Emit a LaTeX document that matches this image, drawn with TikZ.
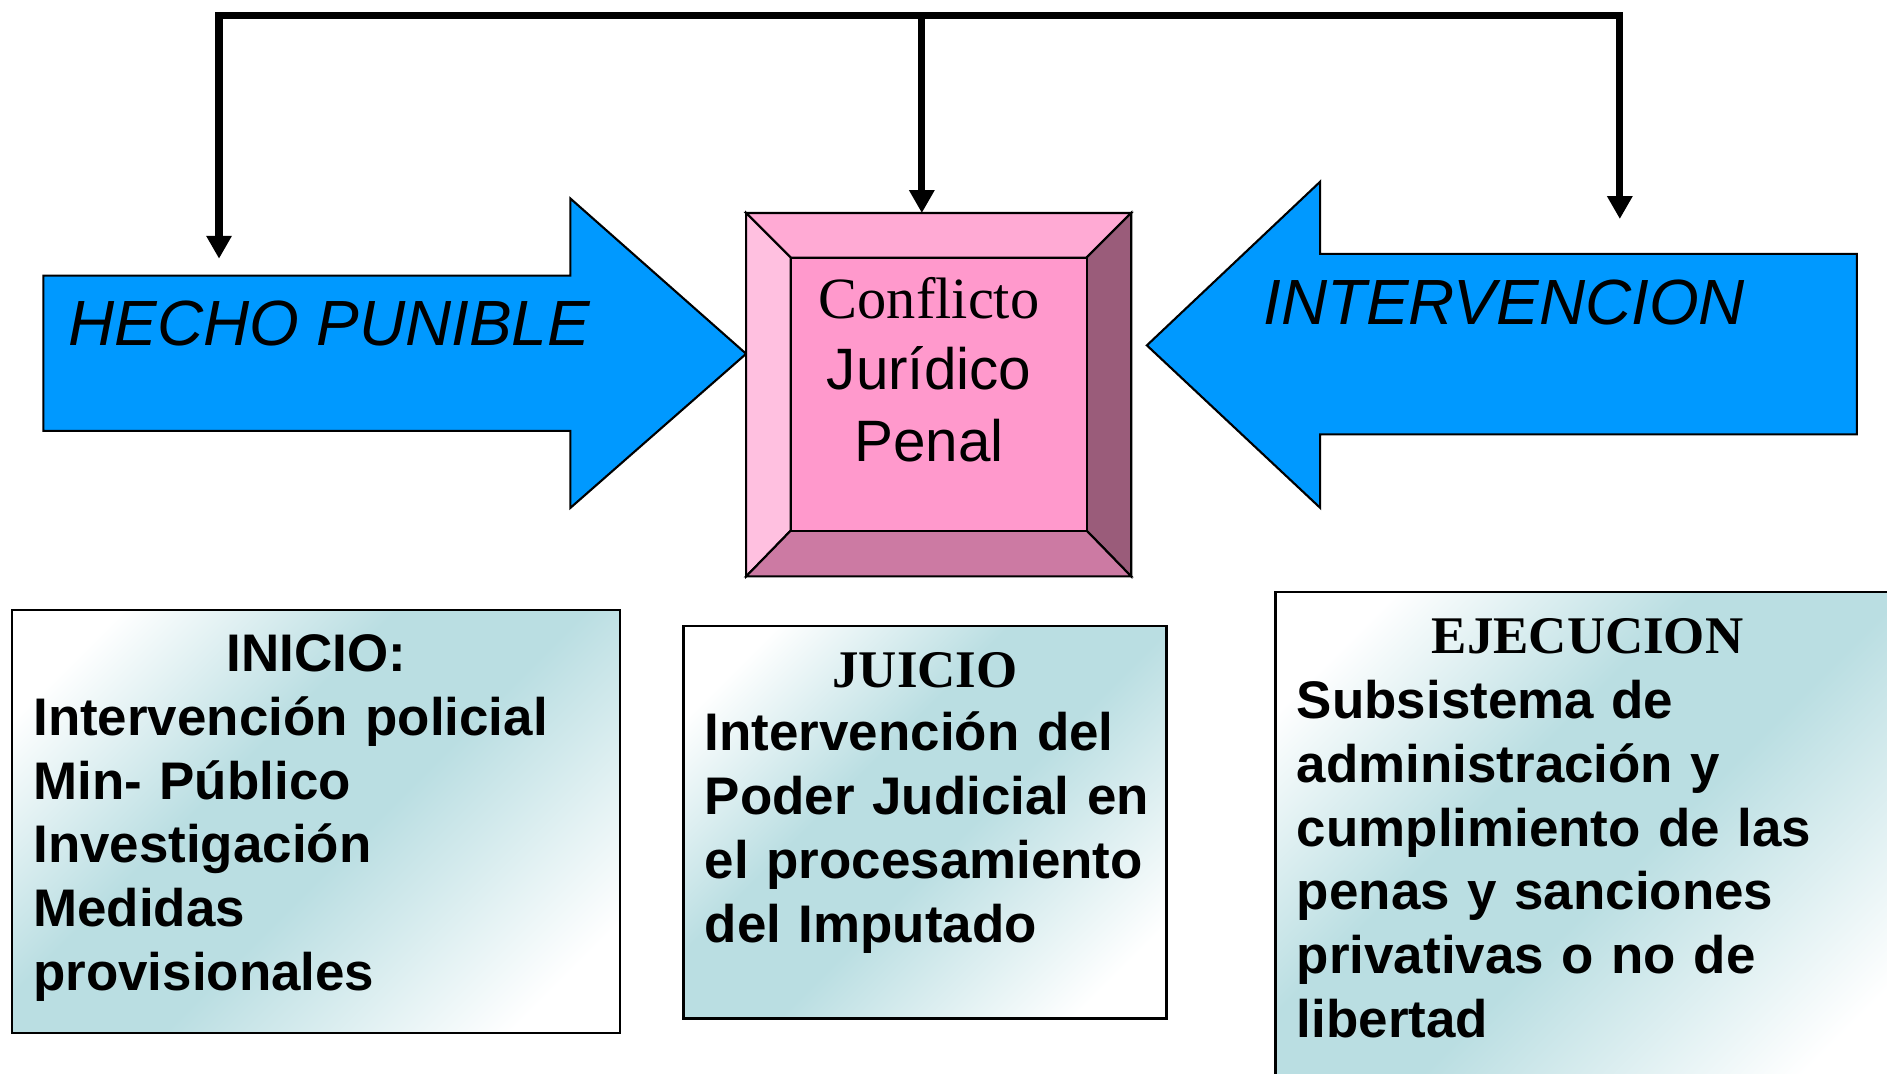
\documentclass[tikz,border=0pt]{standalone}
\usepackage{fontspec}
\setmainfont{Liberation Serif}
\setsansfont{Liberation Sans}
\usetikzlibrary{positioning, arrows.meta, calc}

\definecolor{arrowblue}{RGB}{0,153,255}
\definecolor{pinkface}{RGB}{255,153,204}
\definecolor{pinktop}{RGB}{255,170,212}
\definecolor{pinkleft}{RGB}{255,192,224}
\definecolor{pinkright}{RGB}{154,92,122}
\definecolor{pinkbottom}{RGB}{204,122,163}
\definecolor{tealmid}{RGB}{186,222,226}

\pgfdeclarehorizontalshading{tealband}{100bp}{color(0bp)=(white); color(22bp)=(white); color(41bp)=(tealmid); color(54bp)=(tealmid); color(78bp)=(white); color(100bp)=(white)}

\begin{document}
\begin{tikzpicture}[
    x=0.01cm, y=-0.01cm,
    blockarrow/.style={draw=black, line width=0.5pt, fill=arrowblue, line join=miter},
    arrowtext/.style={font=\fontsize{15.1}{18}\selectfont\sffamily\itshape, anchor=base west, inner sep=0pt},
    link/.style={line width=0.06cm, -{Triangle[length=0.19cm, width=0.2cm]}},
    bevel/.style={draw=black, line width=0.5pt},
    centertext/.style={font=\fontsize{13.8}{16.8}\selectfont\sffamily, text width=2.6cm, align=center, anchor=base, inner sep=0pt},
    stagebox/.style={draw=black, line width=0.6pt, shading=tealband, shading angle=-45, anchor=north west, inner sep=0pt},
    stagehead/.style={font=\fontsize{12.5}{15.08}\selectfont\bfseries, anchor=base, inner sep=0pt},
    stagebody/.style={font=\fontsize{12.5}{15.08}\selectfont\sffamily\bfseries, text width=#1, align=left, anchor=base west, inner sep=0pt}
]
\useasboundingbox (0,0) rectangle (1568,892);
\clip (0,0) rectangle (1568,892);

% Block arrows
\draw[blockarrow] (36,229) -- (474,229) -- (474,165) -- (620,294) -- (474,422) -- (474,358) -- (36,358) -- cycle;
\node[arrowtext] (hecho) at (56,287) {HECHO PUNIBLE};

\draw[blockarrow] (1543,211) -- (1097,211) -- (1097,151) -- (953,287) -- (1097,422) -- (1097,361) -- (1543,361) -- cycle;
\node[arrowtext] (interv) at (1049,270) {INTERVENCION};

% Central box with bevel
\node[draw, line width=0.5pt, fill=pinkface, minimum width=3.18cm, minimum height=3cm, inner sep=0pt] (conflicto) at (780,328) {};
\coordinate (cin1) at ([shift={(37,37)}]conflicto.north west);
\coordinate (cin2) at ([shift={(-37,37)}]conflicto.north east);
\coordinate (cin3) at ([shift={(-37,-38)}]conflicto.south east);
\coordinate (cin4) at ([shift={(37,-38)}]conflicto.south west);
\filldraw[bevel, fill=pinktop] (conflicto.north west) -- (conflicto.north east) -- (cin2) -- (cin1) -- cycle;
\filldraw[bevel, fill=pinkleft] (conflicto.north west) -- (cin1) -- (cin4) -- (conflicto.south west) -- cycle;
\filldraw[bevel, fill=pinkright] (conflicto.north east) -- (conflicto.south east) -- (cin3) -- (cin2) -- cycle;
\filldraw[bevel, fill=pinkbottom] (conflicto.south west) -- (cin4) -- (cin3) -- (conflicto.south east) -- cycle;
\filldraw[bevel, fill=pinkface] (cin1) rectangle (cin3);
\node[centertext] (conflictotext) at (772,265) {{\rmfamily Conflicto}\\Jurídico\\Penal};

% Connectors from the top
\coordinate (hub) at (766,13);
\coordinate (hechotip) at (182,215);
\coordinate (intervtip) at (1346,182);
\draw[link] (hub) -| (hechotip);
\draw[link] (hub) -| (intervtip);
\draw[link] (hub) -- (hub |- conflicto.north);

% Stages
\node[stagebox, minimum width=5.05cm, minimum height=3.51cm] (inicio) at (9,506) {};
\node[stagehead, font=\fontsize{12.5}{15.08}\selectfont\sffamily\bfseries] at ([yshift=-0.52cm]inicio.north) {INICIO:};
\node[stagebody=4.8cm] at ([shift={(18,105)}]inicio.north west) {Intervención policial\\Min- Público\\Investigación\\Medidas\\provisionales};

\node[stagebox, minimum width=4.01cm, minimum height=3.26cm] (juicio) at (567,519) {};
\node[stagehead] at ([yshift=-0.52cm]juicio.north) {JUICIO};
\node[stagebody=3.8cm] at ([shift={(18,105)}]juicio.north west) {Intervención del\\Poder Judicial en\\el procesamiento\\del Imputado};

\node[stagebox, minimum width=5.18cm, minimum height=4.2cm] (ejecucion) at (1059,491) {};
\node[stagehead] at ([yshift=-0.52cm]ejecucion.north) {EJECUCION};
\node[stagebody=4.7cm] at ([shift={(18,106)}]ejecucion.north west) {Subsistema de\\administración y\\cumplimiento de las\\penas y sanciones\\privativas o no de\\libertad};

\end{tikzpicture}
\end{document}
